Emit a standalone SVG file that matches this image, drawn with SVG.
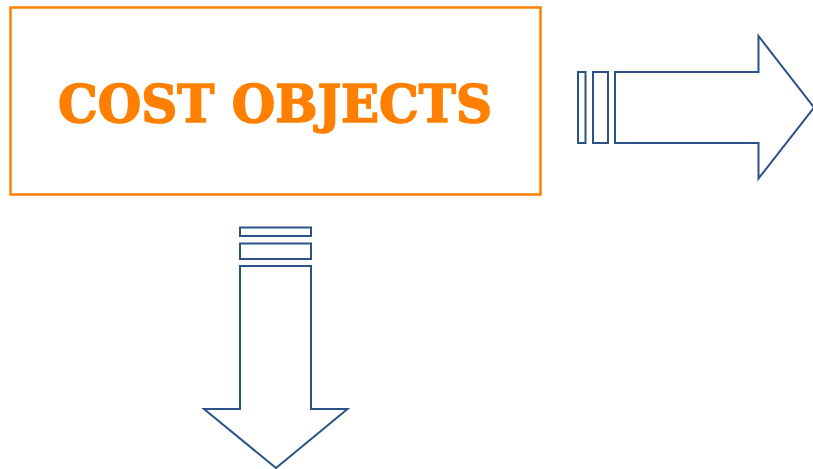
<svg xmlns="http://www.w3.org/2000/svg" width="813" height="469" viewBox="0 0 813 469">
<style>
.arr{fill:#fff;stroke:#2A5287;stroke-width:2;stroke-linejoin:miter}
.box{fill:#fff;stroke:#FF8000;stroke-width:2.5}
.lbl{font-family:"DejaVu Serif","Liberation Serif",serif;font-weight:bold;font-size:52px;fill:#FF8000;stroke:#FF8000;stroke-width:1.6;stroke-linejoin:round}
</style>
<rect width="813" height="469" fill="#fff"/>
<g id="cost-objects">
<rect class="box" x="10.5" y="7.5" width="530" height="187"/>
<text class="lbl" x="275" y="121.5" text-anchor="middle" textLength="434" lengthAdjust="spacingAndGlyphs">COST OBJECTS</text>
</g>
<g id="connectors">
<g id="arrow-right">
<rect class="arr" x="578" y="72" width="7.5" height="71"/>
<rect class="arr" x="593" y="72" width="15" height="71"/>
<path class="arr" d="M615,72 H758.5 V36 L814,107.5 L758.5,178.5 V143 H615 Z"/>
</g>
<g id="arrow-down">
<rect class="arr" x="240" y="227.5" width="71" height="8.5"/>
<rect class="arr" x="240" y="243.5" width="71" height="15.5"/>
<path class="arr" d="M240,266 H311 V409 H347.5 L276,468 L204,409 H240 Z"/>
</g>
</g>
</svg>
